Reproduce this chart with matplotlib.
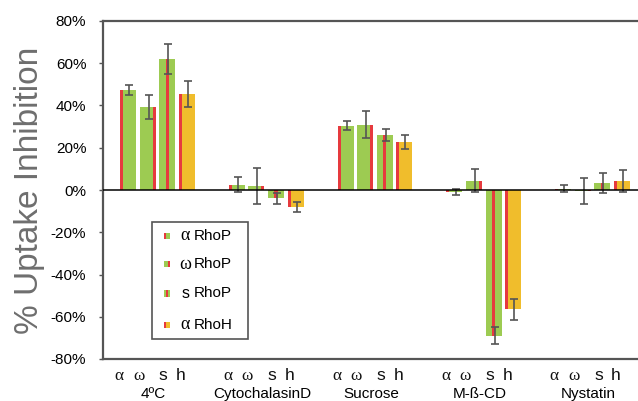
import matplotlib.pyplot as plt
from matplotlib.patches import Rectangle
from matplotlib.transforms import ScaledTranslation
import numpy as np

# data (% uptake inhibition)
groups = ["4ºC", "CytochalasinD", "Sucrose", "M-ß-CD", "Nystatin"]
letters = ["α", "ω", "s", "h"]
series = ["α RhoP", "ω RhoP", "s RhoP", "α RhoH"]

a_rhop = [47.2, 2.6, 30.5, -0.9, 0.7]
a_rhop_err = [2.3, 3.4, 2.2, 1.6, 1.8]
w_rhop = [39.2, 1.9, 31.0, 4.4, -0.3]
w_rhop_err = [5.6, 8.6, 6.5, 5.4, 6.2]
s_rhop = [62.0, -4.0, 26.0, -68.9, 3.2]
s_rhop_err = [7.1, 2.7, 2.9, 4.0, 4.7]
a_rhoh = [45.5, -8.2, 22.8, -56.5, 4.4]
a_rhoh_err = [6.2, 2.4, 3.4, 4.9, 5.3]

values = [a_rhop, w_rhop, s_rhop, a_rhoh]
errors = [a_rhop_err, w_rhop_err, s_rhop_err, a_rhoh_err]

green = "#9dcb52"
yellow = "#f0bd2c"
red = "#e63a3e"
fills = [green, green, green, yellow]
# where the red stripe sits inside each bar: -1 left, 1 right, 0 middle
stripe_pos = [-1, 1, 0, -1]

plt.rcParams["font.family"] = ["Liberation Sans", "DejaVu Sans"]

fig = plt.figure(figsize=(6.38, 4.01), dpi=100)
ax = fig.add_axes([103 / 638, 42 / 401, 544 / 638, 338 / 401])

x = np.arange(1, len(groups) + 1)
step = 0.18
bw = 0.147
sw = 0.028
for k in range(4):
    xs = x + (k - 1.5) * step
    ax.bar(xs, values[k], width=bw, color=fills[k], zorder=2)
    sx = xs + stripe_pos[k] * (bw - sw) / 2
    ax.bar(sx, values[k], width=sw, color=red, zorder=3)
    ax.errorbar(xs + 0.01, values[k], yerr=errors[k], fmt="none", ecolor="#555555",
                elinewidth=1.2, capsize=3, capthick=1.2, zorder=4)

ax.axhline(0, color="black", lw=1.1, zorder=5)

ax.set_xlim(0.5, 5.5)
ax.set_ylim(-80, 80)
ax.set_yticks(np.arange(-80, 81, 20))
ax.set_yticklabels([f"{v}%" for v in range(-80, 81, 20)], fontsize=11)
ax.tick_params(axis="y", length=3, width=1, color="#555555", pad=9)

ax.set_xticks(x)
ax.set_xticklabels(groups, fontsize=11)
ax.tick_params(axis="x", length=0, pad=20)
shift = ScaledTranslation(-4 / 100, 0, fig.dpi_scale_trans)
for lbl in ax.get_xticklabels():
    lbl.set_transform(lbl.get_transform() + shift)

# letter row under each group
offs = [-9, -9, -4, -6]
for gx in x:
    for k, lt in enumerate(letters):
        px = (k - 1.5) * step + offs[k] / 108.8
        fam = ["Liberation Serif"] if lt in "αω" else ["Liberation Sans"]
        ax.text(gx + px, -84.2, lt, ha="center", va="top", fontsize=12.5,
                family=fam, clip_on=False, color="#111111")

for side in ["left", "top", "bottom"]:
    ax.spines[side].set_color("#555555")
    ax.spines[side].set_linewidth(1.6)
ax.spines["right"].set_visible(False)

ax.set_ylabel("% Uptake Inhibition", fontsize=24, color="#6e6e6e", labelpad=4)

# legend box drawn by hand
ax.add_patch(Rectangle((0.090, 0.059), 0.1765, 0.346, transform=ax.transAxes,
                       fill=False, edgecolor="#555555", lw=1.2, clip_on=False, zorder=6))
leg_y = [0.364, 0.281, 0.195, 0.1006]
mw, mh = 0.0125, 0.0205
for k in range(4):
    y = leg_y[k]
    x0 = 0.1176 - mw / 2
    ax.add_patch(Rectangle((x0, y - mh / 2), mw, mh, transform=ax.transAxes,
                           color=fills[k], lw=0, zorder=7))
    s0 = x0 + (stripe_pos[k] + 1) / 2 * (mw - mw * 0.4)
    ax.add_patch(Rectangle((s0, y - mh / 2), mw * 0.4, mh, transform=ax.transAxes,
                           color=red, lw=0, zorder=8))
    head, tail = series[k].split(" ")
    if head == "s":
        ax.text(0.151, y, "s", transform=ax.transAxes, fontsize=11.5, va="center",
                ha="center", zorder=9)
    else:
        ax.text(0.151, y, head, transform=ax.transAxes, fontsize=13, va="center",
                ha="center", family=["Liberation Serif"], zorder=9)
    ax.text(0.1675, y, tail, transform=ax.transAxes, fontsize=11, va="center",
            ha="left", zorder=9)

fig.savefig("out.png", dpi=100)
